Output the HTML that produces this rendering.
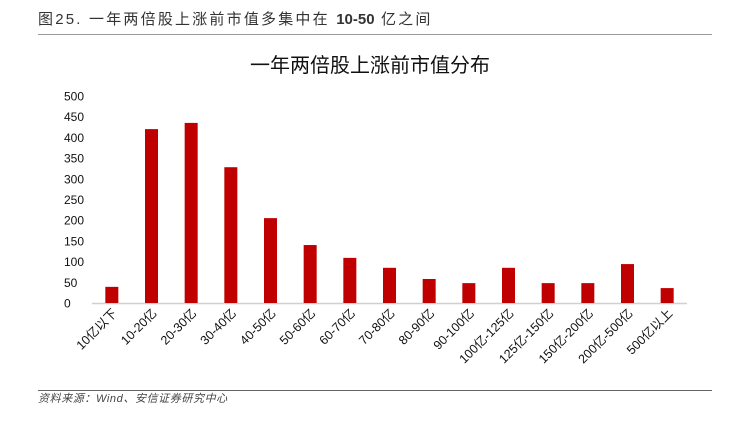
<!DOCTYPE html>
<html><head><meta charset="utf-8"><style>
body{margin:0;background:#fff;font-family:"Liberation Sans","Noto Sans CJK SC",sans-serif;}
#wrap{position:relative;width:737px;height:421px;overflow:hidden;}
</style></head><body>
<div id="wrap">
<svg id="chart" width="737" height="421" style="position:absolute;left:0;top:0">
<text x="38" y="24" font-size="15" fill="#333" letter-spacing="2.2" font-family="Liberation Sans, Noto Sans CJK SC, sans-serif">图25. 一年两倍股上涨前市值多集中在 <tspan font-weight="bold" letter-spacing="0">10-50</tspan> 亿之间</text>
<line x1="38" y1="34.5" x2="712" y2="34.5" stroke="#999" stroke-width="1"/>
<text x="370" y="72" font-size="20" text-anchor="middle" fill="#111" font-family="Liberation Sans, Noto Sans CJK SC, sans-serif">一年两倍股上涨前市值分布</text>
<line x1="92" y1="303.5" x2="687" y2="303.5" stroke="#d0d0d0" stroke-width="1.5"/>
<g id="bars"></g><g id="yticks"></g><g id="xticks"></g>
<line x1="38" y1="390.5" x2="712" y2="390.5" stroke="#666" stroke-width="1"/>
<text x="38" y="402" font-size="11" font-style="italic" fill="#444" letter-spacing="0.6" font-family="Liberation Sans, Noto Sans CJK SC, sans-serif">资料来源：Wind、安信证券研究中心</text>
</svg>
</div>
<script>
const categories=["10亿以下","10-20亿","20-30亿","30-40亿","40-50亿","50-60亿","60-70亿","70-80亿","80-90亿","90-100亿","100亿-125亿","125亿-150亿","150亿-200亿","200亿-500亿","500亿以上"];
const values=[39,420,435,328,205,140,109,85,58,48,85,48,48,94,36];
const yTickLabels=[0,50,100,150,200,250,300,350,400,450,500];
const NS="http://www.w3.org/2000/svg";
const x0=92,x1=687,yBase=303,yTop=96,yMax=500;
const step=(x1-x0)/categories.length;
function xc(i){return x0+step*(i+0.5);}
function y(v){return yBase-(v/yMax)*(yBase-yTop);}
const bars=document.getElementById('bars'),yt=document.getElementById('yticks'),xt=document.getElementById('xticks');
values.forEach((v,i)=>{
const r=document.createElementNS(NS,'rect');
r.setAttribute('x',xc(i)-6.5);r.setAttribute('width',13);
r.setAttribute('y',y(v));r.setAttribute('height',yBase-y(v));
r.setAttribute('fill','#c00000');


bars.appendChild(r);
});
yTickLabels.forEach(t=>{
const tx=document.createElementNS(NS,'text');
tx.setAttribute('x',64);tx.setAttribute('y',y(t)+4.5);
tx.setAttribute('font-size','12');tx.setAttribute('fill','#111');
tx.textContent=t;


yt.appendChild(tx);
});
categories.forEach((c,i)=>{
const tx=document.createElementNS(NS,'text');
const px=xc(i)+6,py=314;
tx.setAttribute('x',px);tx.setAttribute('y',py);
tx.setAttribute('text-anchor','end');
tx.setAttribute('font-size','12.5');tx.setAttribute('fill','#111');
tx.setAttribute('transform','rotate(-45 '+px+' '+py+')');
tx.textContent=c;


xt.appendChild(tx);
});
</script>
</body></html>
